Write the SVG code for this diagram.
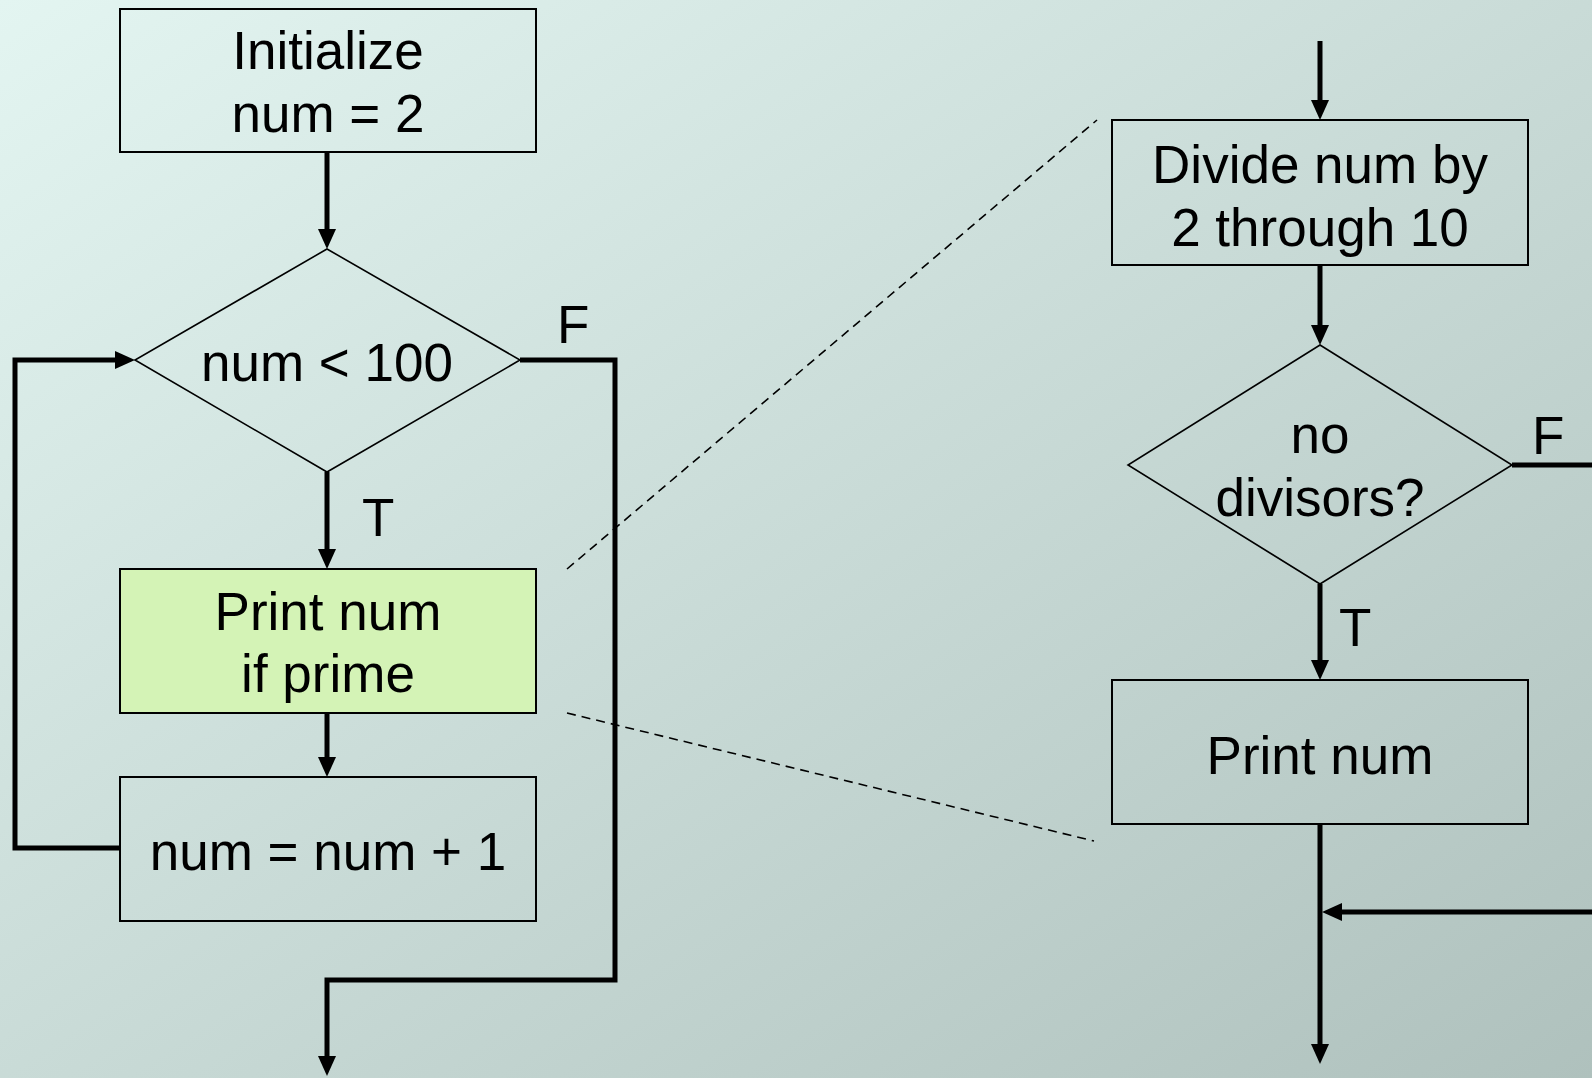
<svg xmlns="http://www.w3.org/2000/svg" width="1592" height="1078" viewBox="0 0 1592 1078">
  <defs>
    <linearGradient id="bg" x1="0" y1="0" x2="1" y2="1">
      <stop offset="0" stop-color="#e3f5f1"/>
      <stop offset="1" stop-color="#afc1bd"/>
    </linearGradient>
    <!-- arrowhead tip sits 8 units past the end of the line -->
    <marker id="arrow" markerUnits="userSpaceOnUse" markerWidth="20" markerHeight="20" refX="12" refY="10" orient="auto" overflow="visible">
      <path d="M0,1 L20,10 L0,19 z" fill="#000"/>
    </marker>
    <style>
      .box { fill: none; stroke: #000; stroke-width: 2; }
      .hl { fill: #d4f3b6; stroke: #000; stroke-width: 2; }
      .dia { fill: none; stroke: #000; stroke-width: 1.6; }
      .flow { fill: none; stroke: #000; stroke-width: 5; }
      .arr { marker-end: url(#arrow); }
      .dash { fill: none; stroke: #000; stroke-width: 1.6; stroke-dasharray: 9 6; }
      text { font-family: "Liberation Sans", Arial, sans-serif; font-size: 53px; fill: #000; }
      .c { text-anchor: middle; }
    </style>
  </defs>

  <rect width="1592" height="1078" fill="url(#bg)"/>

  <!-- connectors -->
  <g id="connectors">
    <!-- outer loop -->
    <line class="flow arr" x1="327" y1="152" x2="327" y2="241"/>
    <line class="flow arr" x1="327" y1="472" x2="327" y2="561"/>
    <line class="flow arr" x1="327" y1="713" x2="327" y2="769"/>
    <polyline class="flow arr" points="120,848 15,848 15,360 127,360"/>
    <polyline class="flow arr" points="520,360 615,360 615,980 327,980 327,1068"/>
    <!-- inner detail -->
    <line class="flow arr" x1="1320" y1="41" x2="1320" y2="112"/>
    <line class="flow arr" x1="1320" y1="265" x2="1320" y2="337"/>
    <line class="flow arr" x1="1320" y1="584" x2="1320" y2="672"/>
    <line class="flow" x1="1512" y1="465" x2="1592" y2="465"/>
    <line class="flow arr" x1="1320" y1="824" x2="1320" y2="1056"/>
    <line class="flow arr" x1="1592" y1="912" x2="1330" y2="912"/>
    <!-- zoom guides -->
    <line class="dash" x1="567" y1="569" x2="1097" y2="120"/>
    <line class="dash" x1="567" y1="713" x2="1094" y2="841"/>
  </g>

  <!-- branch labels -->
  <g id="labels">
    <text x="557" y="343">F</text>
    <text x="362" y="536">T</text>
    <text x="1532" y="454">F</text>
    <text x="1339" y="646">T</text>
  </g>

  <g id="init">
    <rect class="box" x="120" y="9" width="416" height="143"/>
    <text class="c" x="328" y="69">Initialize</text>
    <text class="c" x="328" y="132">num = 2</text>
  </g>

  <g id="test">
    <polygon class="dia" points="327,249 520,360 327,472 135,360"/>
    <text class="c" x="327" y="381">num &lt; 100</text>
  </g>

  <g id="print-prime">
    <rect class="hl" x="120" y="569" width="416" height="144"/>
    <text class="c" x="328" y="630">Print num</text>
    <text class="c" x="328" y="692">if prime</text>
  </g>

  <g id="increment">
    <rect class="box" x="120" y="777" width="416" height="144"/>
    <text class="c" x="328" y="870">num = num + 1</text>
  </g>

  <g id="divide">
    <rect class="box" x="1112" y="120" width="416" height="145"/>
    <text class="c" x="1320" y="183">Divide num by</text>
    <text class="c" x="1320" y="246">2 through 10</text>
  </g>

  <g id="divisors">
    <polygon class="dia" points="1320,345 1512,465 1320,584 1128,465"/>
    <text class="c" x="1320" y="453">no</text>
    <text class="c" x="1320" y="516">divisors?</text>
  </g>

  <g id="print">
    <rect class="box" x="1112" y="680" width="416" height="144"/>
    <text class="c" x="1320" y="774">Print num</text>
  </g>
</svg>
